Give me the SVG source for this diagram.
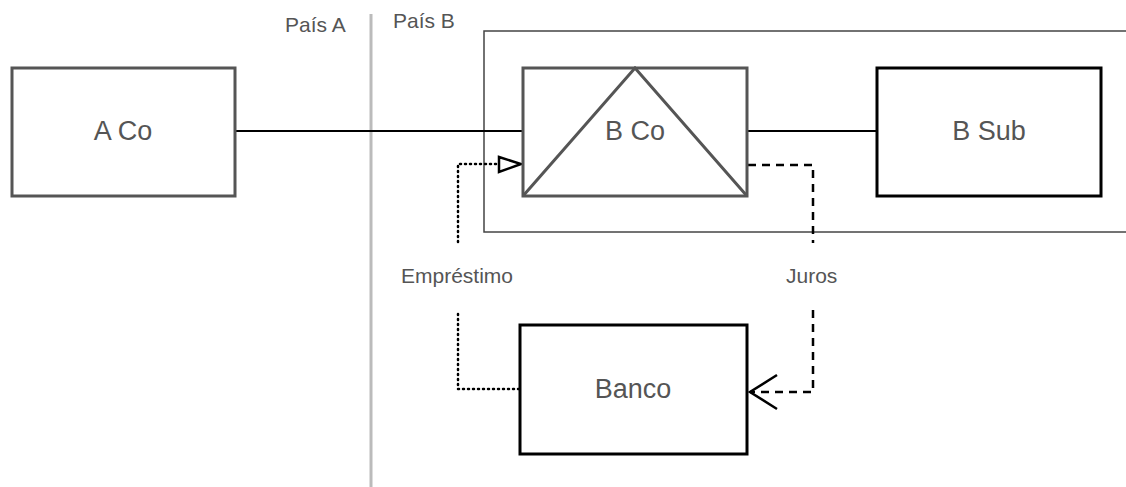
<svg xmlns="http://www.w3.org/2000/svg" width="1126" height="487" viewBox="0 0 1126 487">
<style>
.t{font-family:"Liberation Sans",Arial,sans-serif;fill:#555}
.n{font-size:27px;text-anchor:middle;dominant-baseline:central}
.l{font-size:21px}
</style>
<rect width="1126" height="487" fill="#fff"/>
<g id="divider">
<line x1="371" y1="14" x2="371" y2="487" stroke="#bbb" stroke-width="3"/>
<text class="t l" x="285" y="32">País A</text>
<text class="t l" x="393" y="28">País B</text>
</g>
<g id="boundary">
<rect x="484" y="31" width="660" height="201" fill="none" stroke="#444" stroke-width="1.5"/>
</g>
<g id="connectors">
<line x1="235" y1="131" x2="523" y2="131" stroke="#000" stroke-width="2"/>
<line x1="747" y1="131" x2="876" y2="131" stroke="#000" stroke-width="2"/>
<polyline points="519,389 458,389 458,312" fill="none" stroke="#000" stroke-width="2.5" stroke-dasharray="1,4" stroke-linecap="round"/>
<polyline points="458,242 458,164 499,164" fill="none" stroke="#000" stroke-width="2.5" stroke-dasharray="1,4" stroke-linecap="round"/>
<polyline points="748,165 813,165 813,243" fill="none" stroke="#000" stroke-width="2.5" stroke-dasharray="8,6"/>
<polyline points="813,310 813,392 750,392" fill="none" stroke="#000" stroke-width="2.5" stroke-dasharray="8,6"/>
<path d="M777,375 L750,392 L777,409" fill="none" stroke="#000" stroke-width="2.5"/>
<path d="M499,157 L521,164 L499,172 Z" fill="#fff" stroke="#000" stroke-width="2.5"/>
<text class="t l" x="401" y="283">Empréstimo</text>
<text class="t l" x="786" y="283">Juros</text>
</g>
<g id="aco">
<rect x="12" y="68" width="223" height="128" fill="#fff" stroke="#555" stroke-width="3"/>
<text class="t n" x="123" y="131">A Co</text>
</g>
<g id="bco">
<rect x="523" y="68" width="224" height="128" fill="#fff" stroke="#555" stroke-width="3"/>
<polyline points="523,196 635,68 747,196" fill="none" stroke="#555" stroke-width="3"/>
<text class="t n" x="635" y="131">B Co</text>
</g>
<g id="bsub">
<rect x="877" y="68" width="224" height="128" fill="#fff" stroke="#000" stroke-width="3"/>
<text class="t n" x="989" y="131">B Sub</text>
</g>
<g id="banco">
<rect x="520" y="325" width="227" height="129" fill="#fff" stroke="#000" stroke-width="3"/>
<text class="t n" x="633" y="389">Banco</text>
</g>
</svg>
